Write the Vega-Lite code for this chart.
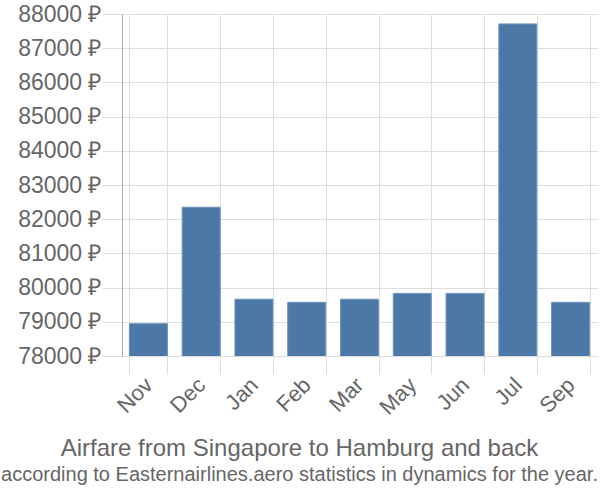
{
  "$schema": "https://vega.github.io/schema/vega-lite/v6.json",
  "autosize": "none",
  "width": 475,
  "height": 342,
  "padding": {"left": 122, "top": 14, "right": 3, "bottom": 144},
  "background": "white",
  "data": {"values": [
    {"month": "Nov", "price": 78944},
    {"month": "Dec", "price": 82350},
    {"month": "Jan", "price": 79660},
    {"month": "Feb", "price": 79570},
    {"month": "Mar", "price": 79660},
    {"month": "May", "price": 79830},
    {"month": "Jun", "price": 79830},
    {"month": "Jul", "price": 87710},
    {"month": "Sep", "price": 79570}
  ]},
  "title": {
    "text": "Airfare from Singapore to Hamburg and back",
    "subtitle": "according to Easternairlines.aero statistics in dynamics for the year.",
    "orient": "bottom",
    "anchor": "middle",
    "dx": -60,
    "font": "Liberation Sans",
    "fontSize": 24,
    "fontWeight": "normal",
    "color": "#666666",
    "subtitleFont": "Liberation Sans",
    "subtitleFontSize": 20,
    "subtitleColor": "#666666",
    "offset": 19,
    "subtitlePadding": 4
  },
  "mark": {"type": "bar", "color": "#4c78a8", "stroke": "#6f93bd", "strokeWidth": 1, "clip": true},
  "encoding": {
    "x": {
      "field": "month", "type": "nominal", "sort": null,
      "scale": {"paddingInner": 0.28, "paddingOuter": 0.14},
      "axis": {
        "title": null, "labelAngle": -45, "labelFont": "Liberation Sans", "labelFontSize": 22,
        "labelColor": "#666666", "grid": true, "gridColor": "#dddddd", "tickBand": "extent",
        "tickColor": "#dddddd", "tickSize": 18, "domain": false, "labelPadding": 0, "labelOffset": -7
      }
    },
    "y": {
      "field": "price", "type": "quantitative",
      "scale": {"domain": [78000, 88000], "zero": false, "nice": false},
      "axis": {
        "title": null, "tickCount": 10, "labelExpr": "datum.value + ' ₽'",
        "labelFont": "Liberation Sans", "labelFontSize": 23, "labelColor": "#666666",
        "gridColor": "#dddddd", "tickColor": "#dddddd", "tickSize": 20,
        "domainColor": "#aaaaaa", "labelPadding": 1
      }
    }
  },
  "config": {"view": {"stroke": null}}
}
